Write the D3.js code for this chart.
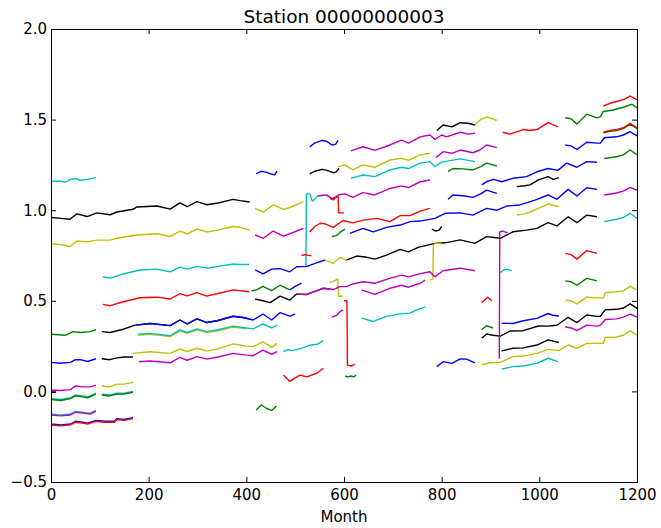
<!DOCTYPE html>
<html>
<head>
<meta charset="utf-8">
<script src="https://cdn.jsdelivr.net/npm/d3@7"></script>
<style>
  body { margin: 0; background: #fff; }
  text { font-family: "DejaVu Sans", sans-serif; }
</style>
</head>
<body>
<svg id="chart"></svg>
<script>
// chart text and ticks
var chartTitle = "Station 00000000003";
var xLabel = "Month";
var xTicks = [0, 200, 400, 600, 800, 1000, 1200];
var yTicks = [-0.5, 0.0, 0.5, 1.0, 1.5, 2.0];

// segments per colour, each one a list of [month, value]
var blackSegs = [
    [[0,0.96],[20,0.955],[39,0.95],[53,0.98],[74,0.965],[94,0.985],[121,0.975],[135,0.99],[168,1.005],[176,1.018],[217,1.023],[244,1.006],[264,1.04],[279,1.02],[299,1.047],[319,1.03],[342,1.04],[373,1.06],[387,1.053],[407,1.045]],
    [[104,0.33],[121,0.325],[148,0.343],[172,0.366],[203,0.375],[244,0.363],[264,0.394],[279,0.372],[299,0.40],[319,0.38],[340,0.39],[373,0.415],[393,0.408],[406,0.40]],
    [[104,0.18],[120,0.175],[135,0.185],[150,0.19],[168,0.19]],
    [[0,-0.005],[10,-0.005]],
    [[530,1.2],[540,1.215],[555,1.225],[565,1.22],[578,1.207],[583,1.21],[590,1.23]],
    [[418,0.51],[434,0.5],[449,0.49],[469,0.526],[489,0.504],[503,0.537],[524,0.535],[557,0.569],[571,0.565]],
    [[790,1.44],[803,1.47],[821,1.46],[838,1.483],[854,1.48],[868,1.47]],
    [[954,1.13],[970,1.135],[981,1.14],[998,1.167],[1018,1.185],[1028,1.17],[1040,1.18]],
    [[605,0.725],[626,0.747],[647,0.74],[663,0.73],[687,0.752],[715,0.784],[732,0.77],[752,0.795],[786,0.817],[807,0.82],[838,0.836],[868,0.817],[892,0.854],[920,0.845],[946,0.881],[974,0.89],[995,0.9],[1018,0.931],[1036,0.913],[1059,0.964],[1077,0.931],[1097,0.973],[1118,0.964]],
    [[780,0.895],[788,0.885],[795,0.89],[800,0.91]],
    [[882,0.293],[892,0.317],[905,0.31],[920,0.305],[940,0.333],[967,0.335],[998,0.361],[1018,0.36],[1036,0.365],[1059,0.409],[1077,0.38],[1097,0.422],[1118,0.414],[1125,0.415],[1135,0.45],[1158,0.453],[1172,0.46],[1186,0.483],[1200,0.458]],
    [[923,0.224],[946,0.238],[967,0.24],[995,0.256],[1018,0.284],[1040,0.27]]
];

var yellowSegs = [
    [[0,0.815],[20,0.81],[39,0.80],[53,0.83],[74,0.825],[94,0.835],[121,0.835],[135,0.845],[176,0.863],[217,0.87],[244,0.855],[264,0.885],[279,0.87],[299,0.896],[319,0.88],[342,0.89],[373,0.91],[387,0.905],[407,0.89]],
    [[178,0.31],[203,0.315],[244,0.302],[264,0.334],[279,0.32],[299,0.34],[319,0.325],[342,0.335],[373,0.355],[400,0.345]],
    [[168,0.21],[203,0.219],[244,0.21],[264,0.234],[279,0.22],[299,0.238],[319,0.222],[342,0.235],[373,0.262],[400,0.25],[414,0.247],[434,0.274],[452,0.243],[463,0.265]],
    [[104,0.03],[120,0.025],[135,0.04],[150,0.04],[168,0.05]],
    [[418,1.01],[435,0.99],[455,1.029],[476,1.005],[489,1.015],[517,1.047]],
    [[588,1.24],[602,1.25],[618,1.222],[639,1.25],[663,1.237],[694,1.277],[718,1.286],[732,1.275],[756,1.305],[776,1.314]],
    [[868,1.47],[880,1.5],[893,1.515],[903,1.505],[913,1.495]],
    [[954,0.973],[970,0.98],[981,0.99],[998,1.01],[1018,1.034],[1040,1.02]],
    [[561,0.725],[578,0.707],[592,0.74],[605,0.725]],
    [[776,0.615],[782,0.62],[783,0.81],[790,0.82],[800,0.815]],
    [[570,0.6],[580,0.61],[587,0.62],[589,0.525],[598,0.525]],
    [[882,0.146],[899,0.158],[920,0.16],[946,0.192],[967,0.195],[995,0.21],[1018,0.232],[1040,0.225],[1059,0.256],[1077,0.238],[1097,0.265],[1131,0.265],[1135,0.298],[1158,0.3],[1172,0.31],[1186,0.334],[1200,0.31]],
    [[1053,0.504],[1065,0.5],[1077,0.483],[1097,0.52],[1131,0.515],[1135,0.545],[1158,0.55],[1172,0.555],[1186,0.58],[1200,0.56]]
];

var cyanSegs = [
    [[0,1.16],[20,1.16],[30,1.155],[40,1.17],[50,1.175],[60,1.165],[75,1.17],[92,1.18]],
    [[106,0.633],[121,0.625],[148,0.648],[182,0.67],[217,0.675],[244,0.66],[264,0.686],[279,0.675],[299,0.69],[319,0.68],[342,0.69],[373,0.703],[387,0.70],[406,0.70]],
    [[178,0.316],[203,0.32],[244,0.307],[264,0.339],[279,0.325],[299,0.345],[319,0.33],[342,0.34],[373,0.36],[400,0.35],[414,0.345],[434,0.372],[452,0.35],[463,0.366]],
    [[0,-0.04],[20,-0.045],[40,-0.035],[50,-0.02],[65,-0.025],[75,-0.03],[92,-0.01]],
    [[104,-0.015],[120,-0.02],[135,-0.01],[150,-0.01],[168,0.0]],
    [[0,-0.125],[20,-0.13],[40,-0.125],[50,-0.11],[65,-0.115],[80,-0.12],[92,-0.105]],
    [[513,0.69],[522,0.69],[523,1.09],[530,1.09],[535,1.05],[540,1.06],[547,1.08],[565,1.083],[578,1.06]],
    [[614,1.176],[639,1.194],[663,1.185],[694,1.222],[718,1.237],[732,1.23],[756,1.26],[776,1.268],[786,1.24],[800,1.265],[838,1.283],[868,1.268]],
    [[636,0.404],[660,0.386],[687,0.414],[715,0.428],[735,0.432],[749,0.45],[766,0.465]],
    [[476,0.22],[485,0.23],[495,0.225],[510,0.235],[530,0.255],[545,0.26],[558,0.28]],
    [[920,0.655],[927,0.67],[933,0.675],[943,0.665]],
    [[923,0.123],[946,0.137],[967,0.14],[995,0.155],[1018,0.183],[1038,0.164]],
    [[1133,0.937],[1158,0.95],[1172,0.96],[1186,0.983],[1200,0.955]]
];

var greenSegs = [
    [[0,0.315],[30,0.31],[45,0.33],[60,0.325],[80,0.33],[92,0.34]],
    [[0,-0.045],[20,-0.05],[40,-0.04],[50,-0.025],[65,-0.03],[75,-0.035],[92,-0.015]],
    [[104,-0.02],[120,-0.025],[135,-0.015],[150,-0.015],[168,-0.005]],
    [[410,0.555],[421,0.56],[434,0.58],[452,0.556],[469,0.586],[489,0.56]],
    [[420,-0.103],[431,-0.075],[441,-0.093],[452,-0.106],[462,-0.08]],
    [[575,0.855],[585,0.86],[595,0.885],[602,0.895]],
    [[602,0.085],[608,0.08],[614,0.085],[620,0.08],[625,0.09]],
    [[813,1.213],[823,1.23],[844,1.228],[864,1.222],[880,1.24],[892,1.26],[913,1.244]],
    [[882,0.34],[892,0.363],[905,0.35]],
    [[1053,1.51],[1065,1.505],[1077,1.475],[1097,1.53],[1118,1.51],[1125,1.515],[1131,1.545],[1151,1.553],[1172,1.568],[1190,1.585],[1200,1.565]],
    [[1131,1.425],[1145,1.435],[1158,1.44],[1172,1.45],[1186,1.475],[1200,1.45]],
    [[1133,1.285],[1158,1.295],[1172,1.305],[1186,1.332],[1200,1.305]],
    [[1053,0.61],[1065,0.605],[1077,0.586],[1097,0.624],[1118,0.61]]
];

var magentaSegs = [
    [[0,0.008],[20,0.005],[40,0.01],[50,0.03],[65,0.025],[80,0.025],[92,0.035]],
    [[0,-0.13],[20,-0.135],[40,-0.13],[50,-0.115],[65,-0.12],[80,-0.125],[92,-0.11]],
    [[180,0.164],[203,0.168],[244,0.158],[264,0.188],[279,0.172],[299,0.192],[319,0.178],[342,0.19],[373,0.21],[400,0.2],[414,0.197],[434,0.228],[452,0.205],[463,0.219]],
    [[418,0.863],[435,0.845],[455,0.885],[476,0.857],[489,0.87],[517,0.9]],
    [[614,1.327],[639,1.35],[663,1.33],[694,1.36],[718,1.387],[732,1.37],[756,1.405],[776,1.415],[786,1.39],[800,1.415],[810,1.405],[838,1.43],[854,1.42],[868,1.425]],
    [[788,1.29],[803,1.323],[821,1.314],[838,1.332],[864,1.317],[880,1.335],[892,1.36],[913,1.345]],
    [[547,1.08],[565,1.083],[578,1.056],[588,1.084],[602,1.09],[618,1.071],[639,1.097],[663,1.084],[694,1.12],[718,1.134],[732,1.125],[756,1.157],[776,1.167]],
    [[503,0.537],[524,0.535],[557,0.569],[571,0.565],[578,0.562],[592,0.578],[605,0.578],[618,0.593],[639,0.605],[663,0.597],[694,0.624],[718,0.642],[732,0.632],[756,0.65],[776,0.66],[786,0.632],[803,0.666],[838,0.68],[868,0.666]],
    [[636,0.56],[663,0.535],[694,0.569],[718,0.586],[732,0.575],[756,0.597],[766,0.615]],
    [[575,0.41],[585,0.42],[592,0.44],[598,0.45]],
    [[918,0.18],[919,0.88],[925,0.885],[935,0.875]],
    [[1053,0.357],[1065,0.35],[1077,0.336],[1097,0.366],[1118,0.36],[1125,0.365],[1135,0.397],[1158,0.4],[1172,0.41],[1186,0.427],[1200,0.41]],
    [[1133,1.084],[1158,1.095],[1172,1.105],[1186,1.126],[1200,1.11]]
];

var blueSegs = [
    [[0,0.16],[20,0.155],[40,0.16],[50,0.175],[60,0.175],[75,0.165],[92,0.18]],
    [[175,0.366],[203,0.375],[244,0.363],[264,0.394],[279,0.372],[299,0.40],[319,0.38],[340,0.39],[373,0.415],[393,0.408],[414,0.394],[434,0.427],[452,0.394],[469,0.435],[489,0.415],[500,0.427]],
    [[489,0.56],[500,0.58],[513,0.597]],
    [[420,1.2],[430,1.215],[440,1.21],[450,1.2],[458,1.195],[463,1.215]],
    [[530,1.35],[540,1.37],[555,1.385],[565,1.38],[575,1.36],[583,1.365],[588,1.385]],
    [[418,0.67],[434,0.648],[452,0.675],[469,0.678],[489,0.66],[503,0.688],[524,0.69],[541,0.707],[561,0.725]],
    [[0,-0.18],[20,-0.185],[40,-0.18],[50,-0.165],[65,-0.17],[75,-0.175],[92,-0.16],[110,-0.165],[130,-0.165],[135,-0.15],[150,-0.155],[168,-0.145]],
    [[813,1.06],[823,1.084],[844,1.08],[864,1.071],[880,1.09],[892,1.111],[913,1.093]],
    [[882,1.14],[894,1.16],[906,1.17],[923,1.157],[946,1.176],[974,1.185],[995,1.212],[1018,1.23],[1038,1.22],[1056,1.26],[1077,1.237],[1097,1.268],[1118,1.265]],
    [[612,0.872],[639,0.9],[660,0.88],[687,0.905],[715,0.918],[735,0.937],[756,0.94],[786,0.955],[807,0.983],[838,0.985],[864,0.973],[892,1.01],[913,1.0],[933,1.023],[960,1.029],[991,1.056],[1018,1.084],[1036,1.06],[1059,1.115],[1077,1.078],[1097,1.124],[1118,1.115]],
    [[1053,1.36],[1065,1.355],[1077,1.335],[1097,1.375],[1118,1.37],[1125,1.37],[1133,1.4],[1158,1.405],[1172,1.415],[1186,1.433],[1200,1.41]],
    [[923,0.376],[946,0.375],[967,0.39],[995,0.403],[1018,0.43],[1028,0.42],[1040,0.416]],
    [[790,0.137],[803,0.164],[821,0.155],[838,0.179],[851,0.178],[868,0.158]]
];

var redSegs = [
    [[106,0.48],[121,0.473],[148,0.495],[182,0.517],[217,0.52],[244,0.51],[264,0.54],[279,0.527],[299,0.545],[319,0.526],[342,0.54],[373,0.56],[406,0.55]],
    [[0,-0.185],[20,-0.19],[40,-0.185],[50,-0.17],[65,-0.175],[75,-0.18],[92,-0.165],[110,-0.17],[130,-0.17],[135,-0.155],[150,-0.16],[168,-0.15]],
    [[530,0.88],[540,0.91],[551,0.928],[561,0.925],[578,0.905],[598,0.943],[618,0.93],[639,0.945],[667,0.955],[694,0.937],[715,0.97],[735,0.97],[756,0.995],[776,1.01]],
    [[572,1.06],[580,1.07],[588,1.075],[589,0.985],[600,0.985]],
    [[600,0.5],[606,0.5],[607,0.145],[615,0.14],[622,0.15]],
    [[513,0.75],[520,0.755],[533,0.748]],
    [[476,0.09],[489,0.055],[500,0.075],[510,0.09],[524,0.08],[544,0.1],[558,0.128]],
    [[925,1.43],[940,1.42],[967,1.445],[980,1.44],[995,1.445],[1018,1.483],[1038,1.46]],
    [[1131,1.575],[1145,1.59],[1158,1.6],[1172,1.61],[1186,1.63],[1200,1.61]],
    [[1131,1.43],[1145,1.44],[1158,1.445],[1172,1.455],[1186,1.48],[1200,1.455]],
    [[882,0.49],[888,0.505],[894,0.52],[903,0.5]],
    [[1053,0.762],[1065,0.755],[1077,0.73],[1097,0.777],[1118,0.762]]
];

// draw order: later groups sit on top
var seriesGroups = [
    {color: "#000000", segs: blackSegs},
    {color: "#bfbf00", segs: yellowSegs},
    {color: "#00bfbf", segs: cyanSegs},
    {color: "#008000", segs: greenSegs},
    {color: "#bf00bf", segs: magentaSegs},
    {color: "#0000ff", segs: blueSegs},
    {color: "#ff0000", segs: redSegs}
];

var screen = {width: 661, height: 528};
var plot = {left: 51, top: 29, right: 637, bottom: 482};

var svg = d3.select("#chart")
    .attr("width", screen.width)
    .attr("height", screen.height);

svg.append("rect")
    .attr("width", screen.width)
    .attr("height", screen.height)
    .attr("fill", "#fff");

var xScale = d3.scaleLinear()
    .domain([0, 1200])
    .range([plot.left, plot.right]);

var yScale = d3.scaleLinear()
    .domain([-0.5, 2.0])
    .range([plot.bottom, plot.top]);

svg.append("clipPath")
    .attr("id", "plotclip")
    .append("rect")
    .attr("x", plot.left)
    .attr("y", plot.top)
    .attr("width", plot.right - plot.left)
    .attr("height", plot.bottom - plot.top);

var line = d3.line()
    .x(function(d) { return xScale(d[0]); })
    .y(function(d) { return yScale(d[1]); });

// the data lines
var lines = svg.append("g").attr("clip-path", "url(#plotclip)");
seriesGroups.forEach(function(group) {
    lines.append("g")
        .selectAll("path")
        .data(group.segs)
        .enter()
        .append("path")
        .attr("d", line)
        .attr("fill", "none")
        .attr("stroke", group.color)
        .attr("stroke-width", 1.4)
        .attr("stroke-linejoin", "round");
});

// axes, ticks pointing inwards on all four sides
var styleAxis = function(g) {
    g.select(".domain").remove();
    g.selectAll(".tick line").attr("stroke", "#000");
    g.selectAll(".tick text")
        .attr("fill", "#000")
        .attr("font-family", "DejaVu Sans")
        .attr("font-size", 15);
};

svg.append("g")
    .attr("transform", "translate(0," + plot.bottom + ")")
    .call(d3.axisBottom(xScale).tickValues(xTicks).tickSize(-5).tickPadding(7)
        .tickFormat(d3.format("d")))
    .call(styleAxis);

svg.append("g")
    .attr("transform", "translate(0," + plot.top + ")")
    .call(d3.axisTop(xScale).tickValues(xTicks).tickSize(-5).tickFormat(function() { return ""; }))
    .call(styleAxis);

svg.append("g")
    .attr("transform", "translate(" + plot.left + ",0)")
    .call(d3.axisLeft(yScale).tickValues(yTicks).tickSize(-5).tickPadding(4)
        .tickFormat(d3.format(".1f")))
    .call(styleAxis);

svg.append("g")
    .attr("transform", "translate(" + plot.right + ",0)")
    .call(d3.axisRight(yScale).tickValues(yTicks).tickSize(-5).tickFormat(function() { return ""; }))
    .call(styleAxis);

// frame
svg.append("rect")
    .attr("x", plot.left + 0.5)
    .attr("y", plot.top + 0.5)
    .attr("width", plot.right - plot.left)
    .attr("height", plot.bottom - plot.top)
    .attr("fill", "none")
    .attr("stroke", "#000")
    .attr("stroke-width", 1);

// titles
svg.append("text")
    .text(chartTitle)
    .attr("x", (plot.left + plot.right) / 2)
    .attr("y", 23)
    .attr("text-anchor", "middle")
    .attr("font-size", 18.5);

svg.append("text")
    .text(xLabel)
    .attr("x", (plot.left + plot.right) / 2)
    .attr("y", 522)
    .attr("text-anchor", "middle")
    .attr("font-size", 15);
</script>
</body>
</html>
